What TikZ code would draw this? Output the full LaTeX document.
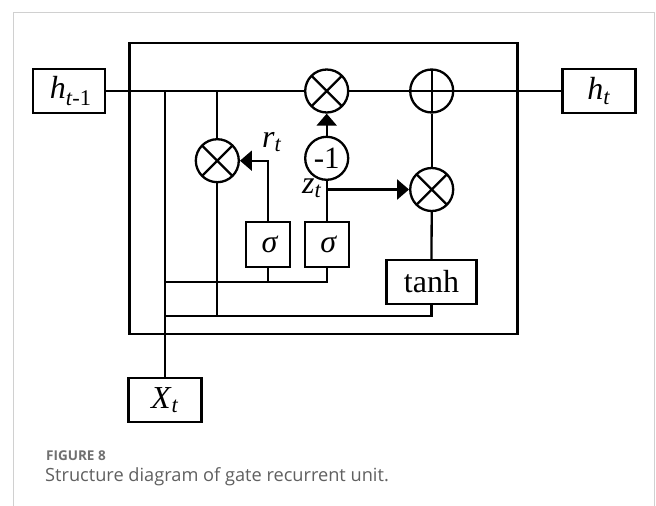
\documentclass[tikz,border=0pt]{standalone}
\usepackage{fontspec}
\setmainfont{Liberation Serif}
\newfontfamily\capfont{Open Sans}
\usetikzlibrary{arrows.meta}
\definecolor{capgray}{HTML}{606060}
\definecolor{figgray}{HTML}{707070}
\definecolor{framegray}{HTML}{D0D0D0}
\tikzset{
  wire/.style={line width=2.3pt},
  arr/.style={line width=2.3pt,-{Triangle[length=12pt,width=20pt]}},
  box/.style={draw,line width=2.3pt,inner sep=0pt,font=\fontsize{32}{36}\selectfont},
  mult/.style={circle,draw,line width=2.3pt,minimum size=43pt,inner sep=0pt,
    path picture={\draw[line width=2.3pt] (path picture bounding box.north west) -- (path picture bounding box.south east)
      (path picture bounding box.north east) -- (path picture bounding box.south west);}},
  plus/.style={circle,draw,line width=2.3pt,minimum size=43pt,inner sep=0pt,
    path picture={\draw[line width=2.3pt] (path picture bounding box.north) -- (path picture bounding box.south)
      (path picture bounding box.west) -- (path picture bounding box.east);}},
  negc/.style={circle,draw,line width=2.3pt,minimum size=43pt,inner sep=0pt,font=\fontsize{31}{34}\selectfont},
  lbl/.style={inner sep=0pt,font=\fontsize{32}{36}\selectfont},
}
\begin{document}
\begin{tikzpicture}[x=1pt,y=-1pt]
\useasboundingbox (0,0) rectangle (656,506);
\fill[white] (0,0) rectangle (656,506);
\draw[framegray,line width=1pt] (13,506) -- (13,12) -- (654,12) -- (654,506);

% main cell
\node[draw,line width=2.3pt,minimum width=388pt,minimum height=291pt,anchor=north west,inner sep=0pt] (cell) at (128.3,41.7) {};

% boxes
\node[box,minimum width=72pt,minimum height=44pt] (hprev) at (68.7,91) {\hspace{4pt}\textit{h}\textsubscript{\textit{t}-1}};
\node[box,minimum width=73pt,minimum height=44pt] (ht) at (599,91) {\textit{h}\textsubscript{\textit{t}}};
\node[box,minimum width=73pt,minimum height=44pt] (xt) at (165,400) {\textit{X}\textsubscript{\textit{t}}};
\node[box,minimum width=44pt,minimum height=45pt] (sig1) at (268,244.8) {\hspace{4pt}\textit{σ}};
\node[box,minimum width=44pt,minimum height=45pt] (sig2) at (326.7,244.8) {\hspace{4pt}\textit{σ}};
\node[box,minimum width=90pt,minimum height=44pt] (tanh) at (431.5,282) {tanh};

% operators
\node[mult] (m1) at (326.7,91) {};
\node[plus] (pl) at (431.7,91) {};
\node[mult] (mr) at (217.3,160.7) {};
\node[negc] (neg) at (326.7,158.3) {-1};
\node[mult] (mz) at (431.7,189.5) {};

% labels
\node[lbl] (rt) at (272,142) {\textit{r}\textsubscript{\textit{t}}};
\node[lbl] (ztl) at (312,188) {\textit{z}\textsubscript{\textit{t}}};

% junction coordinates
\coordinate (j1) at (165,91);
\coordinate (j2) at (217.3,91);
\coordinate (b1) at (165,281.7);
\coordinate (b2) at (165,315.7);
\coordinate (zj) at (326.7,189.5);

% main line
\draw[wire] (hprev.east) -- (m1.west);
\draw[wire] (m1.east) -- (pl.west);
\draw[wire] (pl.east) -- (ht.west);

% input / buses
\draw[wire] (j1) -- (xt.north);
\draw[wire] (j2) -- (mr.north);
\draw[wire] (mr.south) -- (mr.south |- b2);
\draw[wire] (b2) -| (tanh.south);
\draw[wire] (b1) -| (sig2.south);
\draw[wire] (sig1.south) -- (sig1.south |- b1);

% gates
\draw[arr] (sig1.north) |- (mr.east);
\draw[wire] (sig2.north) -- (neg.south);
\draw[arr] (neg.north) -- (m1.south);
\draw[arr] (zj) -- (mz.west);
\draw[wire] (pl.south) -- (mz.north);
\draw[wire] (mz.south) -- (tanh.north);

% caption
\node[anchor=base west,inner sep=0pt,text=figgray,font=\capfont\bfseries\fontsize{13.5}{15}\selectfont] (fig) at (46,460.7) {FIGURE 8};
\node[anchor=base west,inner sep=0pt,text=capgray,font=\capfont\fontsize{18.2}{21}\selectfont] (cap) at (45,481.7) {Structure diagram of gate recurrent unit.};
\end{tikzpicture}
\end{document}
